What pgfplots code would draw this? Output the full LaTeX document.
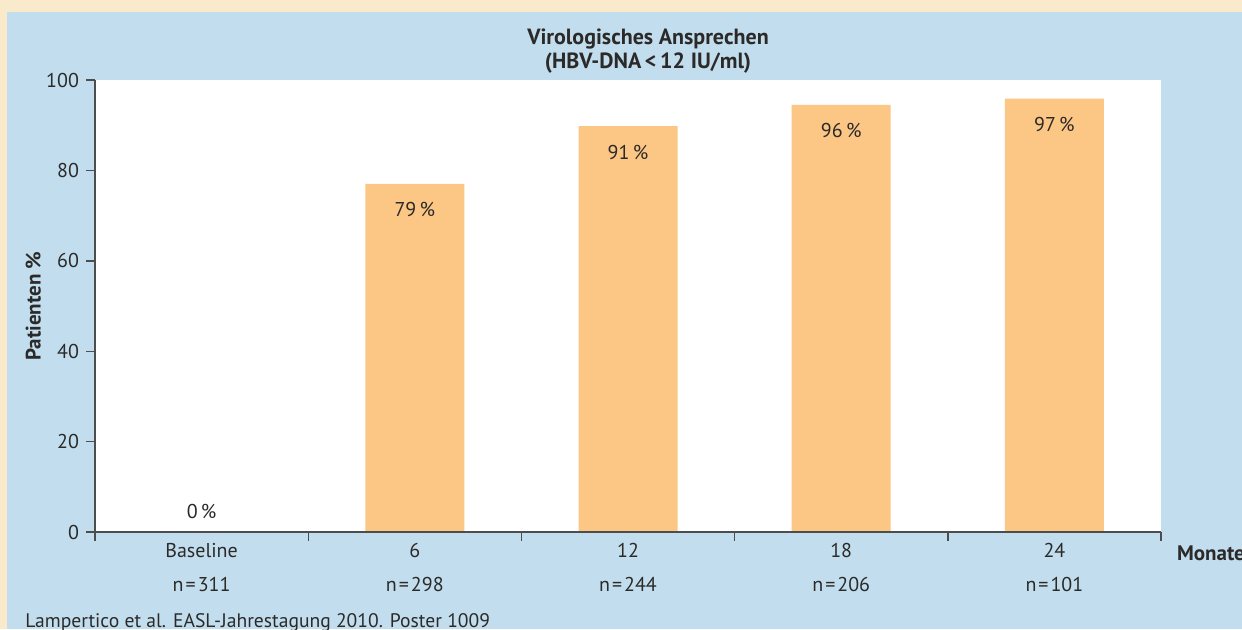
\documentclass[border=0pt]{standalone}
\usepackage{pgfplots}
\pgfplotsset{compat=1.18}
\usepackage{fontspec}
\setmainfont{PT Sans}

\definecolor{cream}{HTML}{F9EACB}
\definecolor{panel}{HTML}{C2DEEE}
\definecolor{barorange}{HTML}{FCC684}
\definecolor{ink}{HTML}{2B2A29}
\definecolor{axisgray}{HTML}{4D4D4D}

\begin{document}
\fontsize{10pt}{12pt}\selectfont\color{ink}%
\begin{tikzpicture}
% whole picture 621pt x 314.5pt (1px of the reference = 0.5pt)
\clip (0pt,0pt) rectangle (621pt,314.5pt);
\fill[cream] (0pt,0pt) rectangle (621pt,314.5pt);
\fill[panel] (3.5pt,0pt) rectangle (621pt,308.5pt);

\node[font=\fontsize{11pt}{12pt}\selectfont\bfseries, align=center] at (324pt,289pt)
  {Virologisches Ansprechen\\(HBV-DNA\,<\,12 IU/ml)};
\node[anchor=base west, inner sep=0pt, font=\fontsize{9.8pt}{11pt}\selectfont] at (12.5pt,0.8pt)
  {Lampertico et al. EASL-Jahrestagung 2010. Poster 1009};

\begin{axis}[
  at={(47.5pt,48.5pt)}, anchor=south west,
  scale only axis, width=533pt, height=226pt,
  xmin=-0.5, xmax=4.5, ymin=0, ymax=100,
  ybar, bar width=49.5pt,
  axis lines*=left,
  axis line style={axisgray, line width=0.7pt},
  axis background/.style={fill=white},
  axis on top,
  tick align=outside,
  major tick length=4.5pt,
  tick style={axisgray, line width=0.7pt},
  ytick={0,20,...,100},
  /pgf/number format/assume math mode=true,
  xtick={-0.5,0.5,...,4.5}, xticklabels={},
  extra x ticks={0,1,2,3,4},
  extra x tick labels={{Baseline\\[5pt]n\kern1pt=\kern1pt311},{6\\[5pt]n\kern1pt=\kern1pt298},{12\\[5pt]n\kern1pt=\kern1pt244},{18\\[5pt]n\kern1pt=\kern1pt206},{24\\[5pt]n\kern1pt=\kern1pt101}},
  extra x tick style={major tick length=0pt, tick label style={align=center, yshift=-2pt}},
  ylabel={Patienten \%},
  ylabel style={font=\fontsize{10.5pt}{12pt}\selectfont\bfseries, at={(axis description cs:-0.058,0.5)}, anchor=center},
  xlabel={Monate},
  xlabel style={font=\fontsize{10.5pt}{12pt}\selectfont\bfseries, at={(axis description cs:1,0)}, anchor=west, xshift=4.5pt, yshift=-10.5pt},
]
\addplot[fill=barorange, draw=none] coordinates {(0,0) (1,77) (2,89.8) (3,94.5) (4,95.9)};

\node[yshift=10.5pt] at (axis cs:0,0) {0\,\%};
\node[yshift=-13pt] at (axis cs:1,77) {79\,\%};
\node[yshift=-13pt] at (axis cs:2,89.8) {91\,\%};
\node[yshift=-13pt] at (axis cs:3,94.5) {96\,\%};
\node[yshift=-13pt] at (axis cs:4,95.9) {97\,\%};
\end{axis}
\end{tikzpicture}
\end{document}
